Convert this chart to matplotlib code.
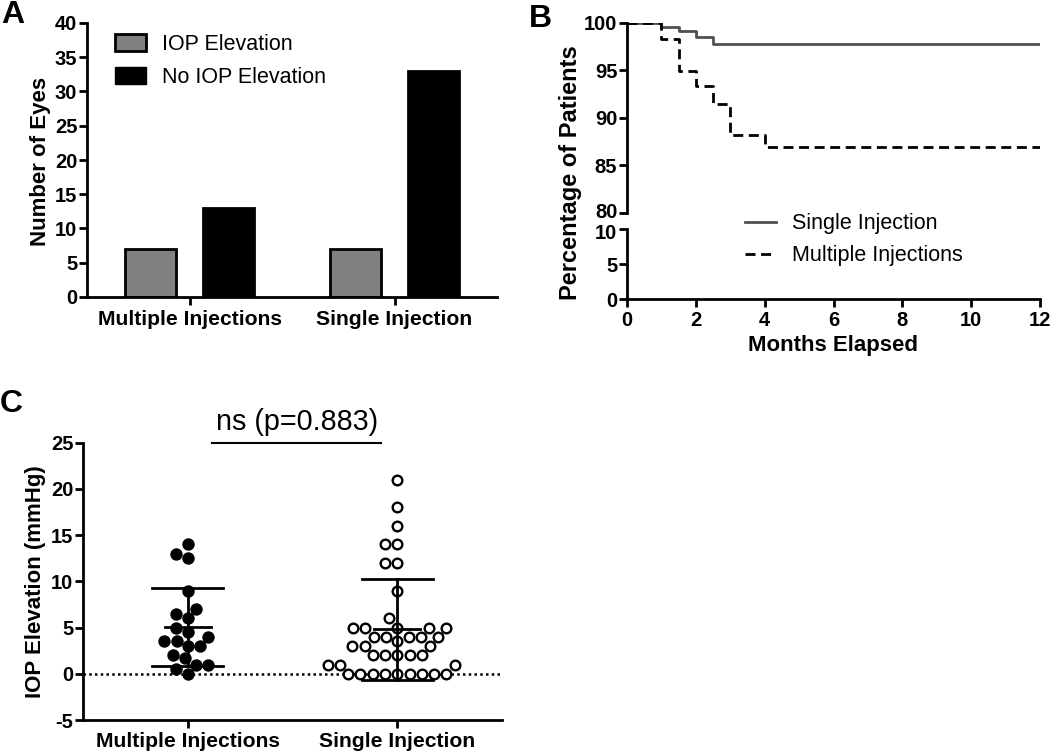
import numpy as np
import matplotlib
matplotlib.use('Agg')
import matplotlib.pyplot as plt
import matplotlib.transforms as mtrans
from matplotlib.patches import Patch
from matplotlib.lines import Line2D

plt.rcParams['font.family'] = ['Liberation Sans', 'DejaVu Sans']

### DATA ###
groups = ['Multiple Injections', 'Single Injection']
iop_elev = [7, 7]
no_iop_elev = [13, 33]

single_t = [0, 1, 1.5, 2, 2.5, 12]
single_pct = [100, 99.6, 99.1, 98.5, 97.8, 97.8]
multi_t = [0, 1, 1.5, 2, 2.5, 3, 4, 12]
multi_pct = [100, 98.3, 94.9, 93.3, 91.5, 88.2, 86.9, 86.9]

multi_iop = [14, 13, 12.5, 9, 7, 6.5, 6, 5, 4.5, 4, 3.5, 3.5, 3, 3, 2, 1.7, 1, 1, 0.5, 0]
single_iop = [21, 18, 16, 14, 14, 12, 12, 9, 6,
              5, 5, 5, 5, 5, 4, 4, 4, 4, 4, 3.5, 3, 3, 3,
              2, 2, 2, 2, 2, 1, 1, 1,
              0, 0, 0, 0, 0, 0, 0, 0, 0]

LW = 2.0
TFS = 14.5   # tick labels
CFS = 15.2   # category labels
LFS = 15.5   # legends
W, H = 1050, 756

def fx(x): return x / W
def fy(y): return 1 - y / H

def style(ax, xpad=5):
	for s in ['top', 'right']:
		ax.spines[s].set_visible(False)
	for s in ['left', 'bottom']:
		ax.spines[s].set_linewidth(LW)
	ax.tick_params(direction='out', length=6, width=LW, labelsize=TFS)
	ax.tick_params(axis='y', pad=1)
	ax.tick_params(axis='x', pad=xpad)
	for lab in ax.get_xticklabels() + ax.get_yticklabels():
		lab.set_fontweight('bold')

def swarm(ypix, d):
	# simple beeswarm in pixel units
	xs = np.zeros(len(ypix))
	placed = []
	for i in np.argsort(ypix):
		y = ypix[i]
		near = [(px, py) for px, py in placed if abs(py - y) < d]
		cands = [0.0]
		for px, py in near:
			dx = np.sqrt(d * d - (py - y) ** 2)
			cands += [px - dx, px + dx]
		cands.sort(key=abs)
		for c in cands:
			if all((c - px) ** 2 + (y - py) ** 2 >= d * d - 1e-6 for px, py in near):
				xs[i] = c
				break
		placed.append((xs[i], y))
	return xs

fig = plt.figure(figsize=(10.5, 7.56), dpi=100)

##################
### PANEL A ###
##################
axA = fig.add_axes([fx(87), fy(297), 410 / W, 274 / H])
ind = np.arange(len(groups))
w = 0.25
axA.bar(ind - 0.19, iop_elev, w, color='#808080', edgecolor='black', linewidth=LW)
axA.bar(ind + 0.19, no_iop_elev, w, color='black', edgecolor='black', linewidth=LW)
axA.set_xlim(-0.5, 1.5)
axA.set_ylim(0, 40)
axA.set_yticks(np.arange(0, 41, 5))
axA.set_xticks(ind)
axA.set_xticklabels(groups)
style(axA, xpad=3.6)
for lab in axA.get_xticklabels():
	lab.set_fontsize(CFS)
fig.text(fx(41), fy(161), 'Number of Eyes', rotation=90, fontsize=16,
	fontweight='bold', ha='center', va='center')
axA.legend(
	[Patch(facecolor='#808080', edgecolor='black', linewidth=LW), Patch(facecolor='black', edgecolor='black')],
	['IOP Elevation', 'No IOP Elevation'],
	loc='upper left', bbox_to_anchor=(fx(115), fy(34)), bbox_transform=fig.transFigure,
	frameon=False, fontsize=LFS, borderpad=0, borderaxespad=0,
	handlelength=1.44, handleheight=0.84, handletextpad=0.74, labelspacing=0.56
)
fig.text(fx(1), fy(23), 'A', fontsize=23, fontweight='bold')

##################
### PANEL B ###
##################
axT = fig.add_axes([fx(627), fy(213), 413 / W, 190.3 / H])
axB = fig.add_axes([fx(627), fy(299), 413 / W, 70 / H])
for ax in [axT, axB]:
	ax.step(single_t, single_pct, where='post', color='#505050', lw=LW)
	ax.step(multi_t, multi_pct, where='post', color='black', lw=LW, dashes=(3.6, 2))
	ax.set_xlim(0, 12)
axT.set_ylim(80, 100)
axT.set_yticks(np.arange(80, 101, 5))
axB.set_ylim(0, 10)
axB.set_yticks([0, 5, 10])
axB.set_xticks(np.arange(0, 13, 2))
style(axT)
style(axB, xpad=2.5)
axT.spines['bottom'].set_visible(False)
axT.tick_params(axis='x', which='both', bottom=False, labelbottom=False)
# nudge the two labels at the axis break apart a little
up = mtrans.ScaledTranslation(0, 2 / 72, fig.dpi_scale_trans)
down = mtrans.ScaledTranslation(0, -2 / 72, fig.dpi_scale_trans)
axT.get_yticklabels()[0].set_transform(axT.get_yticklabels()[0].get_transform() + up)
axB.get_yticklabels()[-1].set_transform(axB.get_yticklabels()[-1].get_transform() + down)
fig.text(fx(833), fy(351), 'Months Elapsed', fontsize=16, fontweight='bold',
	ha='center', va='baseline')
fig.text(fx(571), fy(173), 'Percentage of Patients', rotation=90, fontsize=17,
	fontweight='bold', ha='center', va='center')
axB.legend(
	[Line2D([], [], color='#505050', lw=LW), Line2D([], [], color='black', lw=LW, dashes=(3.6, 2))],
	['Single Injection', 'Multiple Injections'],
	loc='upper left', bbox_to_anchor=(fx(745), fy(213.5)), bbox_transform=fig.transFigure,
	frameon=False, fontsize=LFS, borderpad=0, borderaxespad=0,
	handlelength=1.44, handletextpad=0.74, labelspacing=0.49
)
fig.text(fx(529), fy(27), 'B', fontsize=23, fontweight='bold')

##################
### PANEL C ###
##################
axC = fig.add_axes([fx(83), fy(720), 419 / W, 277.3 / H])
axC.set_xlim(-0.5, 1.5)
axC.set_ylim(-5, 25)
axC.set_yticks(np.arange(-5, 26, 5))
axC.set_yticklabels([str(v) for v in range(-5, 26, 5)])
axC.set_xticks(ind)
axC.set_xticklabels(groups)
axC.axhline(0, color='black', lw=1.8, ls=(0, (1, 1.3)))
style(axC, xpad=2.5)
for lab in axC.get_xticklabels():
	lab.set_fontsize(CFS)
fig.text(fx(36), fy(582), 'IOP Elevation (mmHg)', rotation=90, fontsize=16,
	fontweight='bold', ha='center', va='center')

pxx = axC.transData.transform([(0, 0), (1, 0)])
px_per_x = pxx[1, 0] - pxx[0, 0]
for i, vals in enumerate([multi_iop, single_iop]):
	vals = np.array(vals, dtype=float)
	ypix = axC.transData.transform(np.column_stack([np.zeros_like(vals), vals]))[:, 1]
	xs = i + swarm(ypix, 12.3) / px_per_x
	if i == 0:
		axC.scatter(xs, vals, s=80, color='black', zorder=3, linewidths=0)
	else:
		axC.scatter(xs, vals, s=48, facecolor='white', edgecolor='black', linewidths=1.7, zorder=3)
	m = vals.mean()
	sd = vals.std(ddof=1)
	axC.plot([i - 0.11, i + 0.11], [m, m], color='black', lw=LW, zorder=4)
	axC.plot([i - 0.17, i + 0.17], [m + sd, m + sd], color='black', lw=LW, zorder=4)
	axC.plot([i - 0.17, i + 0.17], [m - sd, m - sd], color='black', lw=LW, zorder=4)
	axC.plot([i, i], [m - sd, m + sd], color='black', lw=LW, zorder=4)

fig.add_artist(Line2D([fx(212), fx(381)], [fy(443), fy(443)], color='black', lw=1.5))
fig.text(fx(297), fy(430), 'ns (p=0.883)', fontsize=20.7, ha='center', va='baseline')
fig.text(fx(0), fy(412), 'C', fontsize=23, fontweight='bold')

### AUSGABE ###
fig.savefig('out.png', dpi=100)
